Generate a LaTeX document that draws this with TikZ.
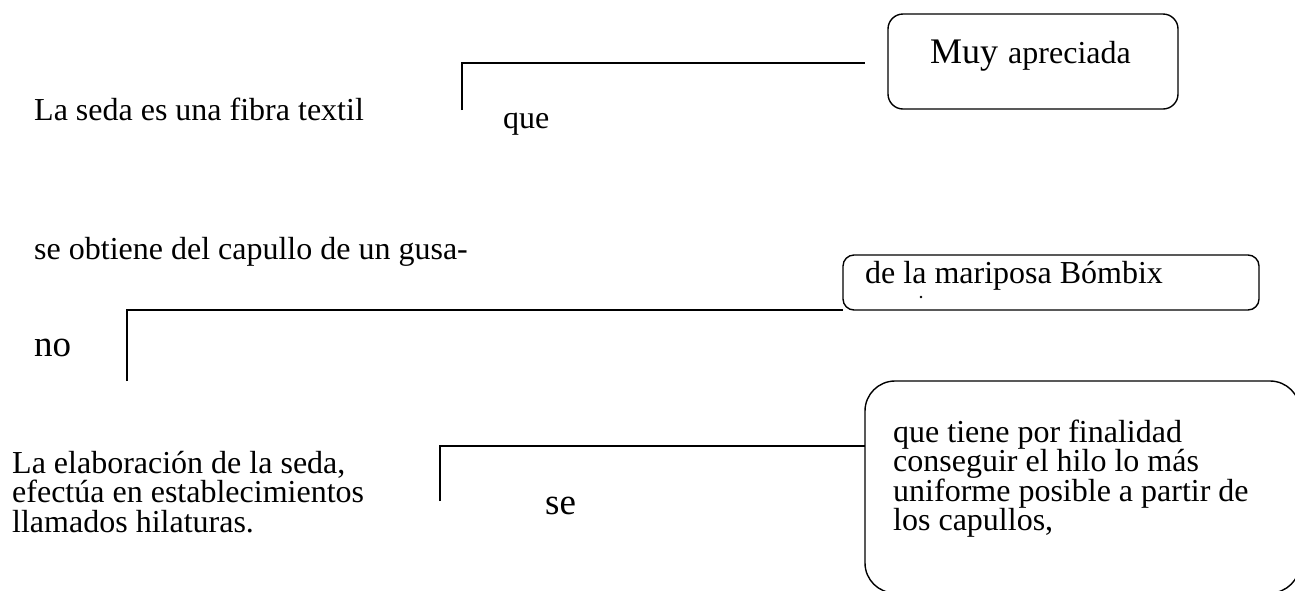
\documentclass[tikz,border=0pt]{standalone}
\usepackage{fontspec}
\setmainfont{Liberation Serif}
\newcommand{\blocktext}[2]{\parbox[t]{#1}{\lineskiplimit=-20pt\fontsize{32}{29.5}\selectfont\raggedright #2}}
\begin{document}
\begin{tikzpicture}[x=1pt,y=-1pt,
  txt/.style={anchor=base west,inner sep=0pt,font=\fontsize{32}{29.5}\selectfont},
  bigtxt/.style={anchor=base west,inner sep=0pt,font=\fontsize{37}{40}\selectfont},
  link/.style={draw=black,line width=1.6pt},
  rbox/.style={draw=black,line width=1.4pt,rounded corners=15pt}]
\useasboundingbox (0,0) rectangle (1295,590);
% row 1
\node[txt] (t1) at (34,120) {La seda es una fibra textil};
\node[txt] (que) at (503,128) {que};
\draw[rbox] (888,14) rectangle (1178,109);
\node[anchor=base west,inner sep=0pt] (muy) at (930,63) {\fontsize{36}{40}\selectfont Muy\hspace{10pt}\fontsize{32}{36}\selectfont apreciada};
\coordinate (b1a) at (462,110);
\coordinate (b1b) at (865,63);
\draw[link] (b1a) |- (b1b);
% row 2
\node[txt] (t2) at (34,259) {se obtiene del capullo de un gusa-};
\draw[rbox,rounded corners=11pt] (843,255) rectangle (1259,310);
\coordinate (box2sw) at (843,310);
\node[txt] (mar) at (865,283) {de la mariposa Bómbix};
\fill (921,297) circle (1.4pt);
\node[bigtxt] (no) at (34,356) {no};
\coordinate (b2a) at (127,381);
\draw[link] (b2a) |- (box2sw);
% row 3
\node[anchor=base west,inner sep=0pt] (par) at (12,473)
  {\blocktext{420pt}{La elaboración de la seda,\\efectúa en establecimientos\\llamados hilaturas.}};
\node[bigtxt] (se) at (545,514) {se};
\draw[rbox,rounded corners=30pt] (865,381) rectangle (1300,593);
\coordinate (box3w) at (865,446);
\coordinate (b3a) at (440,501);
\draw[link] (b3a) |- (box3w);
\node[anchor=base west,inner sep=0pt] (fin) at (893,442)
  {\blocktext{390pt}{que tiene por finalidad\\conseguir el hilo lo más\\uniforme posible a partir de\\los capullos,}};
\end{tikzpicture}
\end{document}
